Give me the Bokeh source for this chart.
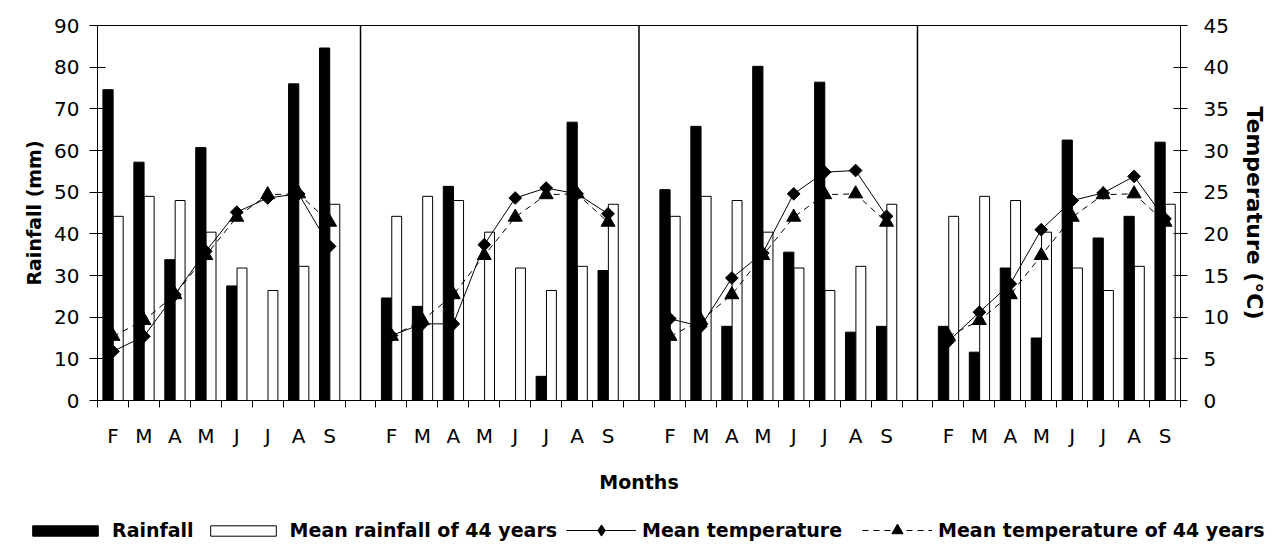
import numpy as np
from bokeh.plotting import figure
from bokeh.layouts import column
from bokeh.models import Range1d, LinearAxis, FixedTicker, Legend, LegendItem, ColumnDataSource
from bokeh.embed import file_html
from bokeh.resources import INLINE

# ---------------- data ----------------
months = ["F", "M", "A", "M", "J", "J", "A", "S"]
n_panels = 4

rainfall = [
    [74.6, 57.2, 33.8, 60.7, 27.5, 0.0, 76.0, 84.6],
    [24.6, 22.6, 51.4, 0.0, 0.0, 5.8, 66.8, 31.2],
    [50.6, 65.8, 17.8, 80.2, 35.6, 76.4, 16.4, 17.8],
    [17.8, 11.6, 31.8, 15.0, 62.5, 39.0, 44.2, 62.0],
]
mean_rain_44 = [44.2, 49.0, 48.0, 40.4, 31.8, 26.4, 32.2, 47.1]

mean_temp = [
    [5.9, 7.7, 12.7, 17.9, 22.6, 24.3, 24.8, 18.5],
    [7.8, 9.2, 9.2, 18.7, 24.3, 25.5, 24.8, 22.4],
    [9.8, 8.9, 14.7, 17.7, 24.8, 27.4, 27.6, 22.1],
    [7.1, 10.6, 14.0, 20.5, 24.0, 24.9, 26.9, 21.8],
]
mean_temp_44 = [7.7, 9.6, 12.7, 17.4, 22.0, 24.7, 24.8, 21.4]

rain_ticks = list(range(0, 91, 10))
temp_ticks = list(range(0, 46, 5))

# ---------------- category layout ----------------
slots_per_panel = len(months) + 1          # 8 months + 1 blank separator slot
n_slots = n_panels * slots_per_panel - 1   # last panel has no trailing blank

centers, labels = [], []
for pi in range(n_panels):
    for mi, m in enumerate(months):
        centers.append(pi * slots_per_panel + mi + 0.5)
        labels.append(m)
sep_x = [pi * slots_per_panel + len(months) + 0.5 for pi in range(n_panels - 1)]

rain_flat = [v for row in rainfall for v in row]
mean_rain_flat = mean_rain_44 * n_panels

lx, lt, lt44 = [], [], []
for pi in range(n_panels):
    for mi in range(len(months)):
        lx.append(pi * slots_per_panel + mi + 0.5)
        lt.append(mean_temp[pi][mi])
        lt44.append(mean_temp_44[mi])
    if pi < n_panels - 1:
        lx.append(np.nan); lt.append(np.nan); lt44.append(np.nan)

bar_src = ColumnDataSource(dict(
    xr=[c - 0.16 for c in centers], xm=[c + 0.17 for c in centers],
    rain=rain_flat, mrain=mean_rain_flat))
line_src = ColumnDataSource(dict(x=lx, t=lt, t44=lt44))

FONT = "DejaVu Sans"
W = 1278

# glyph styles shared by chart and legend strip
BAR_RAIN = dict(fill_color="black", line_color="black", line_width=1)
BAR_MEAN = dict(fill_color="white", line_color="black", line_width=1)
LINE_T = dict(line_color="black", line_width=1)
LINE_T44 = dict(line_color="black", line_width=1, line_dash="6 5")
MK_T = dict(marker="square", angle=np.pi / 4, size=9, fill_color="black", line_color="black")
MK_T44 = dict(marker="triangle", size=14, fill_color="black", line_color="black")

p = figure(width=W, height=500, output_backend="svg", toolbar_location=None,
           x_range=Range1d(0, n_slots), y_range=Range1d(0, 90),
           min_border_left=97, min_border_right=98, min_border_top=25,
           min_border_bottom=100)
p.frame_align = False
p.background_fill_color = "white"
p.border_fill_color = "white"
p.outline_line_color = "black"
p.outline_line_width = 1
p.xgrid.visible = False
p.ygrid.visible = False
p.extra_y_ranges = {"temp": Range1d(0, 45)}

# bars
p.vbar(x="xr", top="rain", width=0.33, source=bar_src, **BAR_RAIN)
p.vbar(x="xm", top="mrain", width=0.32, source=bar_src, **BAR_MEAN)

# separators between years
p.segment(x0=sep_x, y0=[0] * len(sep_x), x1=sep_x, y1=[90] * len(sep_x),
          line_color="black", line_width=1.5)

# temperature lines
p.line("x", "t", source=line_src, y_range_name="temp", **LINE_T)
p.scatter("x", "t", source=line_src, y_range_name="temp", **MK_T)
p.line("x", "t44", source=line_src, y_range_name="temp", **LINE_T44)
p.scatter("x", "t44", source=line_src, y_range_name="temp", **MK_T44)

# x axis
xa = p.xaxis[0]
xa.ticker = FixedTicker(ticks=centers, minor_ticks=list(range(0, n_slots + 1)))
xa.major_label_overrides = {c: l for c, l in zip(centers, labels)}
xa.major_tick_in = 0
xa.major_tick_out = 0
xa.minor_tick_in = 0
xa.minor_tick_out = 7
xa.minor_tick_line_color = "black"
xa.axis_line_color = "black"
xa.major_label_standoff = 16
xa.major_label_text_font = FONT
xa.major_label_text_font_size = "20px"
xa.major_label_text_color = "black"
xa.axis_label = "Months"
xa.axis_label_text_font = FONT
xa.axis_label_text_font_style = "bold"
xa.axis_label_text_font_size = "19px"
xa.axis_label_text_color = "black"
xa.axis_label_standoff = 20

# left axis
ya = p.yaxis[0]
ya.ticker = FixedTicker(ticks=rain_ticks, minor_ticks=[])
ya.major_tick_in = 8
ya.major_tick_out = 8
ya.minor_tick_in = 0
ya.minor_tick_out = 0
ya.axis_line_color = "black"
ya.major_tick_line_color = "black"
ya.major_label_standoff = 10
ya.major_label_text_font = FONT
ya.major_label_text_font_size = "20px"
ya.major_label_text_color = "black"
ya.axis_label = "Rainfall (mm)"
ya.axis_label_text_font = FONT
ya.axis_label_text_font_style = "bold"
ya.axis_label_text_font_size = "19px"
ya.axis_label_text_color = "black"
ya.axis_label_standoff = 6

# right axis
ra = LinearAxis(y_range_name="temp", ticker=FixedTicker(ticks=temp_ticks, minor_ticks=[]),
                axis_label="Temperature (°C)")
ra.major_tick_in = 7
ra.major_tick_out = 7
ra.minor_tick_in = 0
ra.minor_tick_out = 0
ra.axis_line_color = "black"
ra.major_tick_line_color = "black"
ra.major_label_standoff = 16
ra.major_label_text_font = FONT
ra.major_label_text_font_size = "20px"
ra.major_label_text_color = "black"
ra.axis_label_text_font = FONT
ra.axis_label_text_font_style = "bold"
ra.axis_label_text_font_size = "22px"
ra.axis_label_text_color = "black"
ra.axis_label_standoff = 10
p.add_layout(ra, "right")

# ---------------- legend strip (same data, kept out of view) ----------------
q = figure(width=W, height=48, output_backend="svg", toolbar_location=None,
           x_range=Range1d(-20, -19), y_range=Range1d(-20, -19),
           x_axis_location=None, y_axis_location=None,
           min_border_left=0, min_border_right=0, min_border_top=0, min_border_bottom=0)
q.frame_align = False
q.outline_line_color = None
q.xgrid.visible = False
q.ygrid.visible = False
q.background_fill_color = "white"
q.border_fill_color = "white"

g_rain = q.vbar(x="xr", top="rain", width=0.33, source=bar_src, **BAR_RAIN)
g_mrain = q.vbar(x="xm", top="mrain", width=0.32, source=bar_src, **BAR_MEAN)
g_l1 = q.line("x", "t", source=line_src, **LINE_T)
g_s1 = q.scatter("x", "t", source=line_src, marker="diamond", size=14,
                 fill_color="black", line_color="black")
g_l2 = q.line("x", "t44", source=line_src, **LINE_T44)
g_s2 = q.scatter("x", "t44", source=line_src, **MK_T44)

common = dict(orientation="horizontal", border_line_color=None, background_fill_alpha=0,
              padding=0, margin=0, label_standoff=6,
              label_text_font=FONT, label_text_font_style="bold",
              label_text_font_size="19px", label_text_color="black")

leg1 = Legend(items=[
    LegendItem(label="Rainfall", renderers=[g_rain], index=0),
    LegendItem(label="Mean rainfall of 44 years", renderers=[g_mrain], index=0),
], location=(24, 7), glyph_width=82, glyph_height=13, spacing=8, **common)

leg2 = Legend(items=[
    LegendItem(label="Mean temperature", renderers=[g_l1, g_s1], index=0),
    LegendItem(label="Mean temperature of 44 years", renderers=[g_l2, g_s2], index=0),
], location=(566, 4), glyph_width=70, glyph_height=28, spacing=20, **common)

q.add_layout(leg1, "center")
q.add_layout(leg2, "center")

layout = column(p, q, spacing=0)
open("out.html", "w").write(file_html(layout, INLINE))
